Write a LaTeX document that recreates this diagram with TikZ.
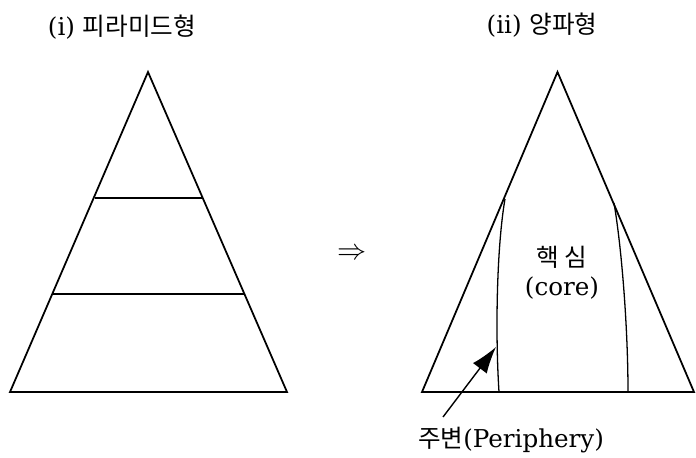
\documentclass[tikz,border=0pt]{standalone}
\usepackage{fontspec}
\setmainfont{DejaVu Serif}
\newfontfamily\kr{Noto Sans CJK KR}
\usetikzlibrary{arrows.meta}
\tikzset{
    edge/.style  ={line width=1.5pt, black, line join=miter},
    bound/.style ={line width=1.1pt, black},
    lbl/.style   ={font=\fontsize{21}{24}\selectfont, inner sep=0pt},
    ptr/.style   ={-{Latex[length=8mm, width=5.2mm]}, line width=1.2pt},
}

\begin{document}
\begin{tikzpicture}[x=0.03cm, y=-0.03cm]
\useasboundingbox (0,0) rectangle (696,458);

% ===================== Titel =====================
\node[lbl] (tpyr) at (122,27) {(i) {\kr 피라미드형}};
\node[lbl] (tonion) at (542,25) {(ii) {\kr 양파형}};

% ===================== Pyramide =====================
\coordinate (pA) at (148,72);
\coordinate (pL) at (10,392);
\coordinate (pR) at (287,392);
\draw[edge] (pA) -- (pL) -- (pR) -- cycle;
\draw[edge] (95,198) -- (202,198);
\draw[edge] (53,294) -- (244,294);

% ===================== Pfeil =====================
\node[font=\fontsize{24}{26}\selectfont, inner sep=0pt] (imp) at (352,254) {$\Rightarrow$};

% ===================== Zwiebel =====================
\coordinate (oA) at (557.5,72);
\coordinate (oL) at (422,392);
\coordinate (oR) at (694,392);
\draw[edge] (oA) -- (oL) -- (oR) -- cycle;
\coordinate (cl1) at (505,199);
\coordinate (cl2) at (499,392);
\coordinate (cr1) at (614,203);
\coordinate (cr2) at (628,392);
\draw[bound] (cl1) .. controls (497,245) and (495,330) .. (cl2);
\draw[bound] (cr1) .. controls (622,250) and (628,330) .. (cr2);

\node[lbl] (core) at (562,257) {\kr 핵 심};
\node[lbl] (corel) at (562,288) {(core)};

% ===================== Peripherie =====================
\node[lbl] (peri) at (511,440) {{\kr 주변}(Periphery)};
\coordinate (ptail) at (443,417);
\coordinate (phead) at (496,347);
\draw[ptr] (ptail) -- (phead);

\end{tikzpicture}
\end{document}
